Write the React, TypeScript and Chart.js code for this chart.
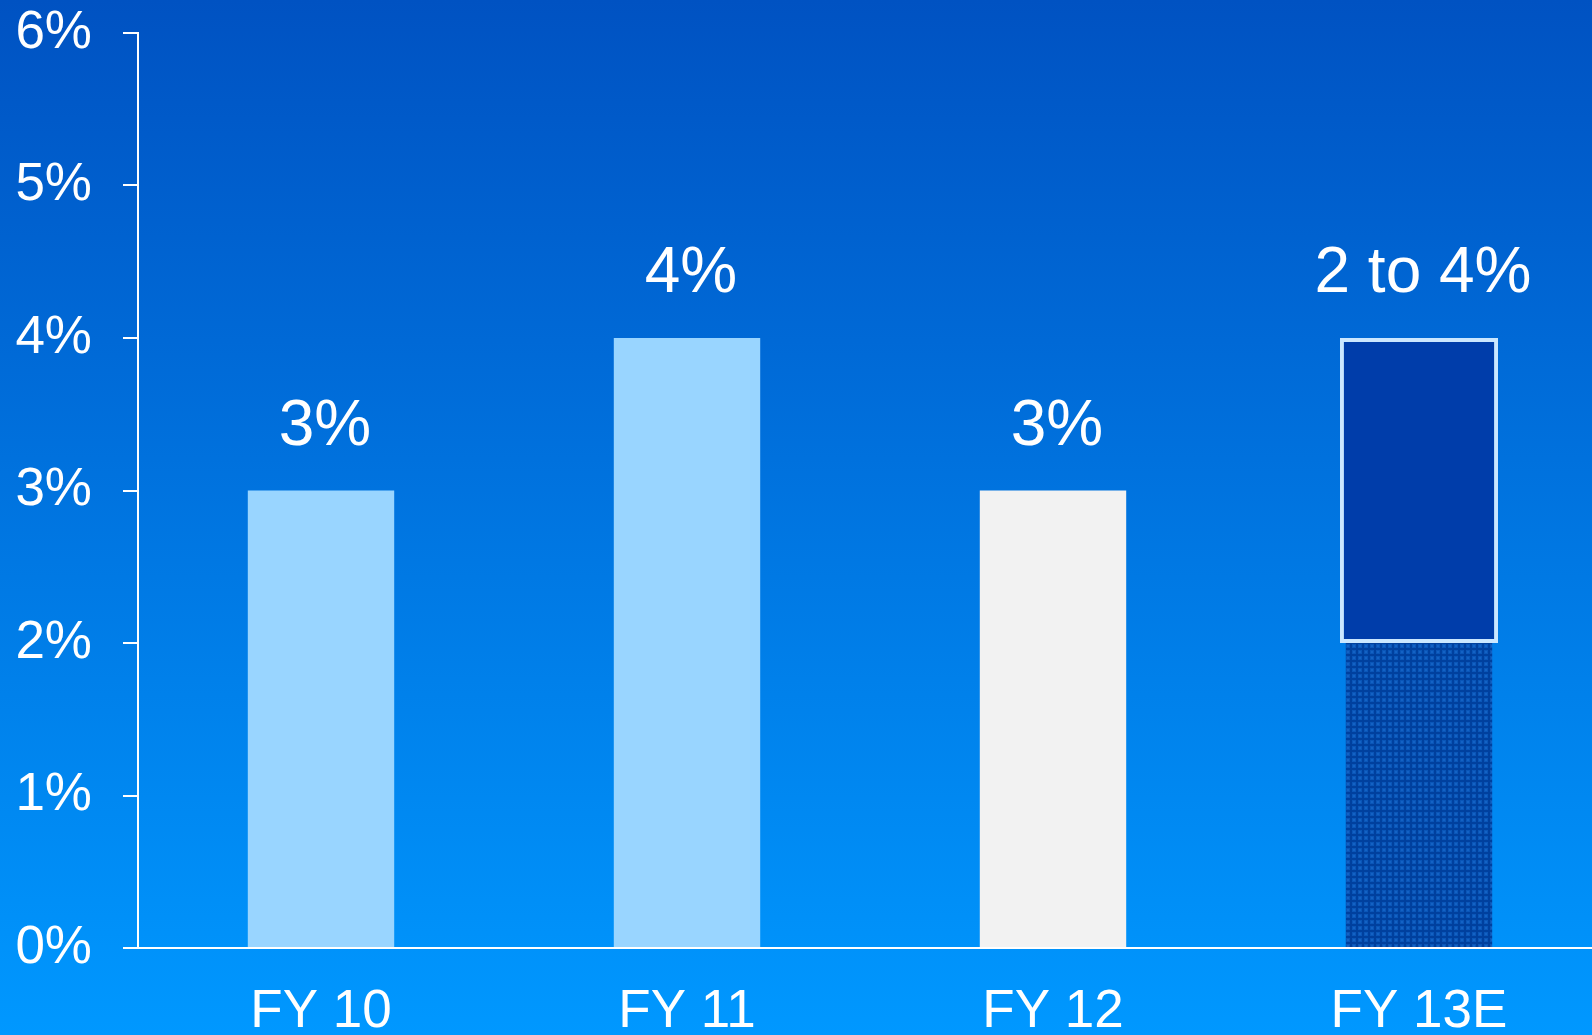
import React, { useEffect, useRef } from 'react';
import { Chart, registerables } from 'chart.js';

Chart.register(...registerables);

const categories = ['FY 10', 'FY 11', 'FY 12', 'FY 13E'];
const actualValues = [3, 4, 3, 2];
const rangeValues: (number[] | null)[] = [null, null, null, [2, 4]];
const valueLabels = ['3%', '4%', '3%', '2 to 4%'];
const yMin = 0;
const yMax = 6;
const yStep = 1;

const FONT = '"Liberation Sans", Arial, Helvetica, sans-serif';

function makePattern(): CanvasPattern | string {
  const c = document.createElement('canvas');
  c.width = 6;
  c.height = 6;
  const g = c.getContext('2d');
  if (!g) return '#0650B0';
  g.fillStyle = '#0A56B8';
  g.fillRect(0, 0, 6, 6);
  g.fillStyle = '#00409E';
  g.fillRect(0, 0, 6, 2);
  g.fillRect(0, 0, 2, 6);
  g.fillStyle = '#1462C4';
  g.fillRect(3, 3, 2, 2);
  const p = g.createPattern(c, 'repeat');
  return p || '#0650B0';
}

const valueLabelPlugin = {
  id: 'valueLabels',
  afterDatasetsDraw(chart: any) {
    const ctx = chart.ctx;
    const xs = chart.scales.x;
    const ys = chart.scales.y;
    ctx.save();
    ctx.fillStyle = '#FFFFFF';
    ctx.font = `64px ${FONT}`;
    ctx.textAlign = 'center';
    ctx.textBaseline = 'alphabetic';
    categories.forEach((_, i) => {
      const r = rangeValues[i];
      const top = r ? r[1] : actualValues[i];
      ctx.fillText(valueLabels[i], xs.getPixelForValue(i) + 4, ys.getPixelForValue(top) - 46);
    });
    ctx.restore();
  },
};

export default function App() {
  const ref = useRef<HTMLCanvasElement | null>(null);

  useEffect(() => {
    const canvas = ref.current;
    if (!canvas) return;
    const pattern = makePattern();
    const chart = new Chart(canvas, {
      type: 'bar',
      data: {
        labels: categories,
        datasets: [
          {
            label: 'Range',
            data: rangeValues as any,
            backgroundColor: '#003DAA',
            borderColor: '#CBE7FF',
            borderWidth: 4,
            borderSkipped: false,
            barPercentage: 0.432,
            categoryPercentage: 1,
            grouped: false,
            order: 0,
          } as any,
          {
            label: 'Actual',
            data: actualValues,
            backgroundColor: ['#99D5FF', '#99D5FF', '#F2F2F2', pattern as any],
            borderWidth: 0,
            barPercentage: 0.4,
            categoryPercentage: 1,
            grouped: false,
            order: 1,
          } as any,
        ],
      },
      options: {
        responsive: false,
        animation: false,
        devicePixelRatio: 1,
        layout: { padding: { top: 33, left: 0, right: 0, bottom: 0 } },
        plugins: {
          legend: { display: false },
          tooltip: { enabled: false },
        },
        scales: {
          x: {
            offset: true,
            grid: { display: false, drawTicks: false },
            border: { display: true, color: '#FFFFFF', width: 2 },
            ticks: {
              color: '#FFFFFF',
              font: { family: FONT, size: 53 },
              padding: 33,
              maxRotation: 0,
              autoSkip: false,
            },
            afterFit: (s: any) => {
              s.height = 87;
              s.paddingLeft = 0;
              s.paddingRight = 0;
            },
          },
          y: {
            min: yMin,
            max: yMax,
            grid: {
              display: true,
              drawOnChartArea: false,
              drawTicks: true,
              tickLength: 15,
              color: '#FFFFFF',
              lineWidth: 2,
            },
            border: { display: true, color: '#FFFFFF', width: 2 },
            ticks: {
              stepSize: yStep,
              color: '#FFFFFF',
              font: { family: FONT, size: 53 },
              padding: 31,
              callback: (v: any) => `${v}%`,
            },
            afterFit: (s: any) => {
              s.width = 138;
              s.paddingTop = 0;
              s.paddingBottom = 0;
            },
          },
        },
      },
      plugins: [valueLabelPlugin],
    });
    return () => chart.destroy();
  }, []);

  return (
    <div
      style={{
        position: 'fixed',
        left: 0,
        top: 0,
        width: 1592,
        height: 1035,
        overflow: 'hidden',
        background: 'linear-gradient(to bottom, #0052C2 0%, #0098FF 100%)',
      }}
    >
      <canvas ref={ref} width={1602} height={1035} style={{ display: 'block', width: 1602, height: 1035 }} />
    </div>
  );
}
